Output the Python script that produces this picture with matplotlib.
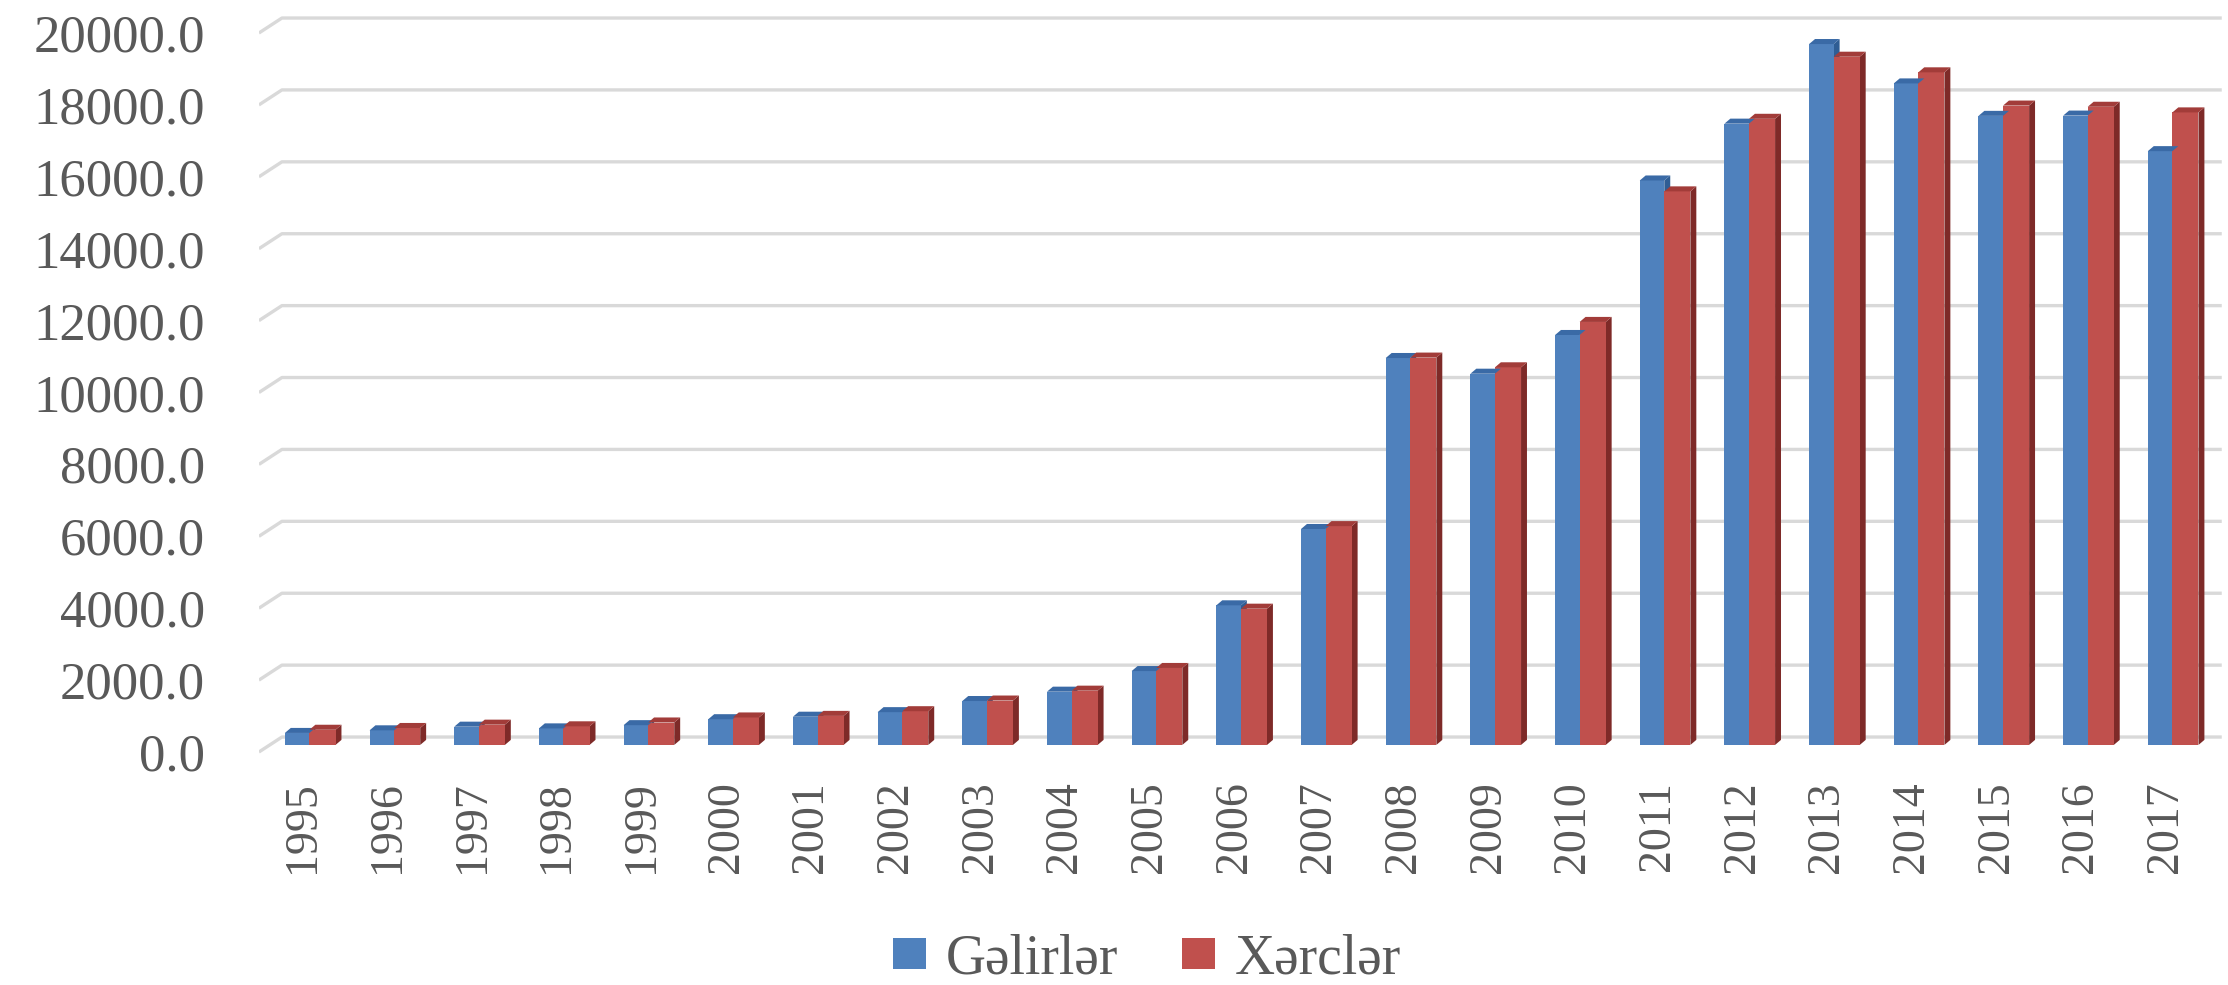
import numpy as np
import matplotlib.pyplot as plt
from matplotlib.patches import Polygon

# Dövlət büdcəsinin gəlirləri və xərcləri (mln manat)
years = ["1995", "1996", "1997", "1998", "1999", "2000", "2001", "2002",
         "2003", "2004", "2005", "2006", "2007", "2008", "2009", "2010",
         "2011", "2012", "2013", "2014", "2015", "2016", "2017"]
gelirler = [333.3, 406.0, 507.4, 460.1, 549.6, 715.3, 784.6, 911.5,
            1221.0, 1481.2, 2055.2, 3883.4, 6006.6, 10762.7, 10325.9, 11403.0,
            15700.7, 17281.5, 19496.2, 18400.6, 17498.0, 17505.7, 16516.7]
xercler = [421.7, 471.3, 563.6, 517.5, 624.0, 763.9, 807.6, 937.7,
           1234.5, 1509.1, 2140.7, 3789.7, 6086.2, 10774.2, 10503.9, 11765.9,
           15397.5, 17416.5, 19143.5, 18709.0, 17784.5, 17751.3, 17594.5]
yticks = np.arange(0, 20001, 2000)

plt.rcParams['font.family'] = ['Liberation Serif', 'DejaVu Serif']

fig = plt.figure(figsize=(22.28, 9.85), dpi=100)
ax = fig.add_axes([0.1162, 0.2335, 0.881, 0.7563])

x = np.arange(len(years))
xmin, xmax = -0.52, 22.66
ax.set_xlim(xmin, xmax)
ax.set_ylim(-500, 20222)

# 3D görünüş üçün parametrlər
slant_x = -0.248      # divar xəttinin düz hissəsinin başlanğıcı
slant_dy = 417        # sol tərəfdəki maili xəttin hündürlüyü
floor = -220          # sütunların ön alt kənarı
dx, dy = 0.07, 140    # sütunların dərinliyi

# şəbəkə xətləri (maili başlanğıcla)
for t in yticks:
    ax.plot([xmin, slant_x, xmax], [t - slant_dy, t, t],
            color='#D9D9D9', lw=2.4, zorder=0, solid_capstyle='butt')

series = [
    (gelirler, -0.213, 0.29, '#4F81BD', '#2F5D94', '#3A6AA6', 'Gəlirlər'),
    (xercler, 0.077, 0.308, '#C0504D', '#7E2A28', '#A23C39', 'Xərclər'),
]
for vals, off, w, c_front, c_side, c_top, lab in series:
    bars = ax.bar(x + off, vals, width=w, bottom=floor, align='edge',
                  color=c_front, label=lab, zorder=3, linewidth=0)
    for b in bars:
        x0 = b.get_x()
        x1 = x0 + b.get_width()
        top = b.get_y() + b.get_height()
        ax.add_patch(Polygon([(x1, floor), (x1 + dx, floor + dy),
                              (x1 + dx, top + dy), (x1, top)],
                             closed=True, color=c_side, lw=0, zorder=2))
        ax.add_patch(Polygon([(x0, top), (x0 + dx, top + dy),
                              (x1 + dx, top + dy), (x1, top)],
                             closed=True, color=c_top, lw=0, zorder=4))

for s in ax.spines.values():
    s.set_visible(False)

ax.set_yticks(yticks - slant_dy, labels=[f"{t:.1f}" for t in yticks])
ax.set_xticks(x, labels=years, rotation=90)
ax.tick_params(axis='y', length=0, pad=39, labelsize=38, labelcolor='#595959')
ax.tick_params(axis='x', length=0, pad=19, labelsize=33, labelcolor='#595959')
for lbl in ax.get_xticklabels():
    lbl.set_verticalalignment('top')

fig.legend(loc='center', bbox_to_anchor=(0.515, 0.026), ncol=2, frameon=False,
           fontsize=40, labelcolor='#595959', handlelength=0.58,
           handleheight=0.47, handletextpad=0.37, columnspacing=1.15)

fig.savefig('out.png', dpi=100)
